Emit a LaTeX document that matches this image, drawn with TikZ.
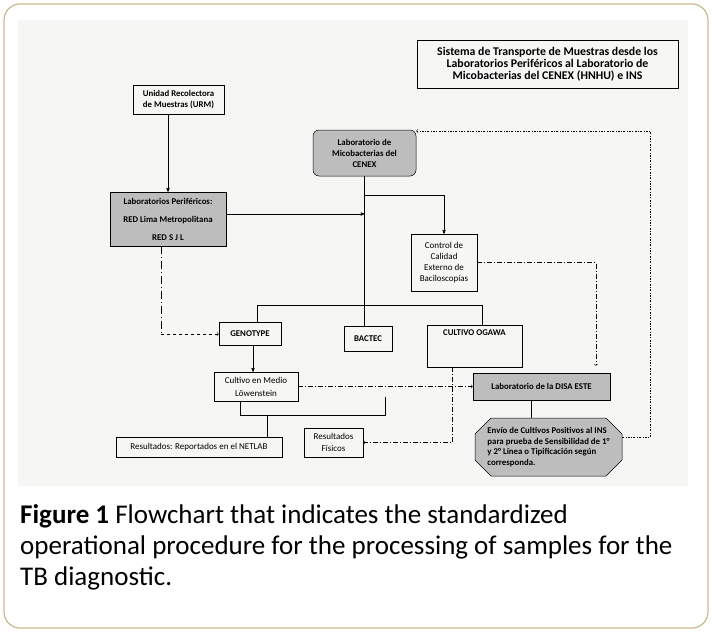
\documentclass[tikz,border=0pt]{standalone}
\usepackage{fontspec}
\setmainfont{Carlito}
\usepackage{xcolor}
\usetikzlibrary{arrows,shapes.misc}
\definecolor{framecol}{HTML}{C8BC8C}
\definecolor{boxgray}{HTML}{BDBDBD}
\definecolor{scangray}{HTML}{F6F6F4}

\begin{document}
\begin{tikzpicture}[x=1pt,y=-1pt,>=stealth']
\tikzstyle{box}=[draw,line width=0.5pt,inner sep=1pt,align=center,font=\fontsize{9}{11}\selectfont]
\tikzstyle{boldbox}=[box,font=\fontsize{8.8}{11}\selectfont\bfseries]
\tikzstyle{shaded}=[boldbox,fill=boxgray]
\tikzstyle{link}=[draw,line width=0.5pt]
\tikzstyle{arrow}=[link,->]
\tikzstyle{dashdot}=[link,dash pattern=on 5pt off 2pt on 1pt off 2pt]
\tikzstyle{dotdash}=[link,dash pattern=on 2pt off 1.5pt on 0.6pt off 1.5pt]
\tikzstyle{opentip}=[-to]
\useasboundingbox (0,0) rectangle (712,632);
\fill[white] (0,0) rectangle (712,632);
\draw[framecol,line width=1.2pt,rounded corners=16pt] (4,4) rectangle (708,628);
\fill[scangray] (18,20) rectangle (688,486);
% boxes
\node[box,font=\fontsize{11.8}{12}\selectfont\bfseries,minimum width=261pt,minimum height=48pt] (title) at (547.5,64)
  {Sistema de Transporte de Muestras desde los\\Laboratorios Periféricos al Laboratorio de\\Micobacterias del CENEX (HNHU) e INS};
\node[boldbox,font=\fontsize{8.8}{11.7}\selectfont\bfseries,minimum width=91pt,minimum height=29pt] (urm) at (178.5,99.5) {Unidad Recolectora\\de Muestras (URM)};
\node[shaded,font=\fontsize{8.8}{18}\selectfont\bfseries,minimum width=116pt,minimum height=54pt] (perif) at (168,219)
  {Laboratorios Periféricos:\\RED Lima Metropolitana\\RED S J L};
\node[shaded,rounded corners=6pt,minimum width=103pt,minimum height=46pt] (cenex) at (364.5,153)
  {Laboratorio de\\Micobacterias del\\CENEX};
\node[box,minimum width=66pt,minimum height=57pt] (control) at (444,262.5) {Control de\\Calidad\\Externo de\\Baciloscopías};
\node[boldbox,minimum width=62pt,minimum height=23pt] (genotype) at (250,333.5) {GENOTYPE};
\node[boldbox,minimum width=48pt,minimum height=25pt] (bactec) at (368,338.5) {BACTEC};
\node[boldbox,minimum width=95pt,minimum height=42pt,text depth=26pt] (ogawa) at (474.5,346) {CULTIVO OGAWA};
\node[box,font=\fontsize{9}{13}\selectfont,minimum width=84pt,minimum height=29pt] (cultivo) at (256,386.5) {Cultivo en Medio\\Löwenstein};
\node[box,minimum width=166pt,minimum height=20pt] (netlab) at (199,447) {Resultados: Reportados en el NETLAB};
\node[box,font=\fontsize{9}{12}\selectfont,minimum width=59pt,minimum height=29pt] (fisicos) at (333.5,442.5) {Resultados\\Físicos};
\node[shaded,minimum width=137pt,minimum height=27pt] (disa) at (541.5,386.5) {Laboratorio de la DISA ESTE};
\node[shaded,chamfered rectangle,chamfered rectangle xsep=8pt,chamfered rectangle ysep=8pt,align=left,
  font=\fontsize{8.8}{10.5}\selectfont\bfseries,minimum width=147pt,minimum height=58pt] (envio) at (548.5,447)
  {Envío de Cultivos Positivos al INS\\para prueba de Sensibilidad de 1°\\y 2° Línea o Tipificación según\\corresponda.};
% points on the lines
\coordinate (split) at (364.5,195);
\coordinate (bend) at (161,334);
\coordinate (bracket) at (385,397);
\coordinate (drop) at (267,415);
\coordinate (corner) at (650,131);
% connectors
\path[arrow] (urm.south -| perif.north) -- (perif.north);
\path[arrow] ([yshift=5pt]perif.east) -- ([yshift=5pt]perif.east -| cenex.south);
\path[link] (cenex.south) -- (cenex.south |- bactec.north);
\path[arrow] (split) -| (control.north);
\path[link] ([xshift=7pt]genotype.north) -- ++(0,-17) -| ([xshift=8pt]ogawa.north);
\path[link,dash pattern=on 8pt off 3pt on 1pt off 3pt] ([xshift=-7pt]perif.south) -- (bend);
\path[link,dashed,opentip] (bend) -- (bend -| genotype.west);
\path[arrow] ([xshift=3pt]genotype.south) -- ([xshift=3pt]genotype.south |- cultivo.north);
\path[link] ([xshift=-16pt]cultivo.south) -- ++(0,14) -| (bracket);
\path[link] (drop) -- (drop |- netlab.north);
\path[dashdot,opentip] ([xshift=-22pt]ogawa.south) |- (fisicos.east);
\path[dashdot,opentip] (cultivo.east) -- (disa.west);
\path[link] ([xshift=-10pt]disa.south) -- ([xshift=-10pt]disa.south |- envio.north);
\path[dashdot,opentip,shorten >=7pt] (control.east) -| ([xshift=54.5pt]disa.north);
\path[dotdash,opentip] ([yshift=10pt]envio.east) -| (corner) -- (corner -| cenex.east);
% caption
\node[anchor=north west,align=left,inner sep=0pt,font=\fontsize{27}{31}\selectfont] (caption) at (20,504)
  {\textbf{Figure 1} Flowchart that indicates the standardized\\operational procedure for the processing of samples for the\\TB diagnostic.};
\end{tikzpicture}
\end{document}
